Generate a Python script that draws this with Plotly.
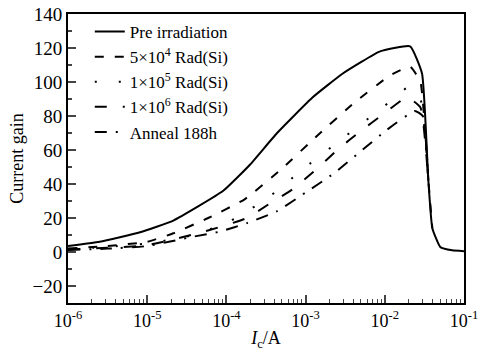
import plotly.graph_objects as go

# log10(Ic) positions and gains
pre_x = [-6.0, -5.6, -5.09, -4.67, -4.04, -3.70, -3.36, -2.91, -2.53, -2.06, -1.68, -1.53, -1.45, -1.40, -1.30, -1.15, -1.0]
pre_y = [3.5, 6, 11.6, 18.5, 36, 51.5, 70, 91, 105, 118, 121, 105, 42, 14, 3, 1, 0.5]

r1_x = [-6.0, -5.5, -5.0, -4.67, -4.23, -3.77, -3.30, -2.84, -2.38, -1.93, -1.68, -1.55, -1.45, -1.40]
r1_y = [2, 3.5, 6, 11, 20, 31, 49, 69, 88, 104, 109, 100, 42, 14]

r2_x = [-6.0, -5.5, -5.0, -4.5, -4.0, -3.5, -3.0, -2.5, -2.0, -1.7, -1.55, -1.45]
r2_y = [1.8, 3, 5, 9, 17, 31, 50, 68, 86, 97, 90, 42]

r3_x = [-6.0, -5.5, -5.0, -4.36, -4.06, -3.74, -3.47, -3.16, -2.88, -2.60, -2.31, -2.02, -1.72, -1.55, -1.45]
r3_y = [1.5, 2.5, 4, 11, 15, 20, 28, 37, 48, 60, 71, 81, 91, 85, 42]

an_x = [-6.0, -5.5, -5.0, -4.42, -4.08, -3.74, -3.36, -3.0, -2.65, -2.31, -1.97, -1.62, -1.52, -1.45]
an_y = [1.2, 2, 3.5, 9, 12, 17, 24, 35, 46, 59, 72, 83, 80, 42]

names = ["Pre irradiation", "5×10<sup>4</sup> Rad(Si)", "1×10<sup>5</sup> Rad(Si)",
         "1×10<sup>6</sup> Rad(Si)", "Anneal 188h"]

xtick_vals = [1e-6, 1e-5, 1e-4, 1e-3, 1e-2, 1e-1]
xtick_text = ["10<sup>-6</sup>", "10<sup>-5</sup>", "10<sup>-4</sup>", "10<sup>-3</sup>", "10<sup>-2</sup>", "10<sup>-1</sup>"]
ytick_vals = [-20, 0, 20, 40, 60, 80, 100, 120, 140]

FONT = "Liberation Serif, Times New Roman, serif"

series = [
    (pre_x, pre_y, "solid"),
    (r1_x, r1_y, "9px,11px"),
    (r2_x, r2_y, "2px,22px"),
    (r3_x, r3_y, "12px,16px"),
    (an_x, an_y, "12px,9px,2px,9px"),
]

fig = go.Figure()
for (xs, ys, dash), nm in zip(series, names):
    fig.add_trace(go.Scatter(
        x=[10 ** v for v in xs], y=ys, mode="lines", name=nm,
        line=dict(color="black", width=2, dash=dash, shape="spline", smoothing=0.4)))

minor_x = [m * 10 ** e for e in range(-6, -1) for m in range(2, 10)]

fig.update_layout(
    width=480, height=356,
    margin=dict(l=68, r=16, t=14, b=53),
    paper_bgcolor="white", plot_bgcolor="white",
    font=dict(family=FONT, size=17, color="black"),
    showlegend=True,
    legend=dict(x=0.055, y=1.0, xanchor="left", yanchor="top",
                bgcolor="rgba(0,0,0,0)", font=dict(family=FONT, size=17, color="black"),
                tracegroupgap=0, itemwidth=30),
    xaxis=dict(type="log", range=[-6, -1], tickmode="array",
               tickvals=xtick_vals, ticktext=xtick_text,
               ticks="inside", ticklen=8, tickwidth=1.5,
               minor=dict(ticks="inside", ticklen=4, tickvals=minor_x, tickwidth=1),
               showline=True, linewidth=2, linecolor="black", mirror=True,
               showgrid=False, zeroline=False, automargin=False,
               tickfont=dict(family=FONT, size=18, color="black"),
               title=dict(text="<i>I</i><sub>c</sub>/A", font=dict(family=FONT, size=18, color="black"), standoff=2)),
    yaxis=dict(range=[-30, 140], tickmode="array", tickvals=ytick_vals,
               ticks="inside", ticklen=8, tickwidth=1.5,
               minor=dict(ticks="inside", ticklen=4, dtick=10, tick0=0),
               showline=True, linewidth=2, linecolor="black", mirror=True,
               showgrid=False, zeroline=False, automargin=False,
               tickfont=dict(family=FONT, size=19, color="black"),
               title=dict(text="Current gain", font=dict(family=FONT, size=18, color="black"), standoff=4)),
)

fig.write_html("out.html", config={"displayModeBar": False},
               post_script="document.body.style.margin='0';")
